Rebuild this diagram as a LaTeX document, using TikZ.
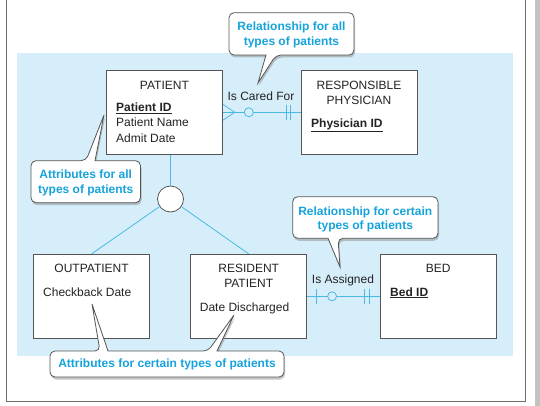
\documentclass[tikz,border=0pt]{standalone}
\usepackage{fontspec}
\setmainfont{Liberation Sans}
\usetikzlibrary{calc,shadows}
\definecolor{bgblue}{RGB}{214,238,250}
\definecolor{cline}{RGB}{75,185,228}
\definecolor{ctext}{RGB}{22,163,219}
\definecolor{ebord}{RGB}{85,85,85}
\definecolor{etext}{RGB}{35,35,35}
\definecolor{framec}{RGB}{110,110,110}
\definecolor{barc}{RGB}{195,195,195}
\begin{document}
\begin{tikzpicture}[x=1pt,y=-1pt,
  entity/.style={draw=ebord, fill=white, line width=0.8pt, minimum width=116pt, minimum height=84pt, inner sep=0pt},
  etxt/.style={text=etext, font=\fontsize{12}{14}\selectfont, inner sep=0pt, anchor=base},
  ctxt/.style={text=ctext, font=\fontsize{12}{14}\selectfont\bfseries, inner sep=0pt, anchor=base},
  conn/.style={draw=cline, line width=0.8pt},
  opt/.style={circle, draw=cline, fill=bgblue, line width=0.8pt, minimum size=9pt, inner sep=0pt},
  subc/.style={circle, draw=ebord, fill=white, line width=0.8pt, minimum size=26pt, inner sep=0pt},
  callout/.style={fill=white, draw=ebord, line width=0.8pt,
    drop shadow={opacity=0.45, shadow xshift=1pt, shadow yshift=-2.5pt}}]
\useasboundingbox (0,0) rectangle (540,406);
\fill[white] (0,0) rectangle (540,406);
\fill[barc] (534.5,0) rectangle (540,406);
\draw[framec, line width=1pt] (6,-5) rectangle (525,401);
\fill[bgblue] (17.2,53.3) rectangle (513,355.7);

% entities
\node[entity] (patient) at (164.4,112.3) {};
\node[entity] (physician) at (359,112.3) {};
\node[entity] (outp) at (91.6,296.3) {};
\node[entity] (resident) at (248.7,296.3) {};
\node[entity] (bed) at (438.3,296.3) {};

% subtype circle and connectors
\node[subc] (circ) at (170.5,199) {};
\draw[conn] (circ) -- (circ |- patient.south);
\draw[conn] (circ) -- (outp.north);
\draw[conn] (circ) -- (resident.north);

% Is Cared For
\draw[conn] (patient.east) -- (physician.west);
\coordinate (cft) at ($(patient.east)+(12,0)$);
\draw[conn] ($(patient.east)+(0,-8)$) -- (cft) -- ($(patient.east)+(0,8)$);
\node[opt] (o1) at ($(patient.east)+(26,0)$) {};
\draw[conn] ($(physician.west)+(-14.7,-7.5)$) -- ++(0,15);
\draw[conn] ($(physician.west)+(-10,-7.5)$) -- ++(0,15);
\node[etxt] (lcared) at (261,100.3) {Is Cared For};

% Is Assigned
\draw[conn] (resident.east) -- (bed.west);
\draw[conn] ($(resident.east)+(9.3,-7.5)$) -- ++(0,15);
\node[opt] (o2) at ($(resident.east)+(25,0)$) {};
\draw[conn] ($(bed.west)+(-16,-7.5)$) -- ++(0,15);
\draw[conn] ($(bed.west)+(-11,-7.5)$) -- ++(0,15);
\node[etxt] (lassigned) at (343,283.6) {Is Assigned};

% entity texts
\node[etxt] (tpat) at (164.4,89.3) {PATIENT};
\node[etxt, anchor=base west] (tpid) at (116,111.6) {\underline{\textbf{Patient ID}}};
\node[etxt, anchor=base west] (tpname) at (116,127) {Patient Name};
\node[etxt, anchor=base west] (tadmit) at (116,142.6) {Admit Date};
\node[etxt] (tresp) at (359,89.3) {RESPONSIBLE};
\node[etxt] (tphys) at (359,104.3) {PHYSICIAN};
\node[etxt, anchor=base west] (tphid) at (311,127.6) {\underline{\textbf{Physician ID}}};
\node[etxt] (toutp) at (91.6,272.6) {OUTPATIENT};
\node[etxt, anchor=base west] (tcheck) at (43,296) {Checkback Date};
\node[etxt] (tres1) at (248.7,272.6) {RESIDENT};
\node[etxt] (tres2) at (248.7,287.6) {PATIENT};
\node[etxt, anchor=base west] (tdd) at (199.7,311) {Date Discharged};
\node[etxt] (tbed) at (438.3,272.6) {BED};
\node[etxt, anchor=base west] (tbedid) at (390,296) {\underline{\textbf{Bed ID}}};

% callouts
\path[callout] (291,12.7) [rounded corners=5pt] -- (354,12.7) -- (354,55) -- (276,55)
  [sharp corners] -- (258,83) -- (266,55) [rounded corners=5pt] -- (229,55) -- (229,12.7) -- cycle;
\node[ctxt] (c1a) at (291.5,31) {Relationship for all};
\node[ctxt] (c1b) at (291.5,46) {types of patients};

\path[callout] (85,202.7) [rounded corners=5pt] -- (31,202.7) -- (31,160.7) -- (86,160.7)
  [sharp corners] -- (104,115) -- (95,160.7) [rounded corners=5pt] -- (140.5,160.7) -- (140.5,202.7) -- cycle;
\node[ctxt] (c2a) at (85.7,178.6) {Attributes for all};
\node[ctxt] (c2b) at (85.7,193.6) {types of patients};

\path[callout] (365,196.7) [rounded corners=5pt] -- (438,196.7) -- (438,238.3) -- (338,238.3)
  [sharp corners] -- (340,267) -- (328,238.3) [rounded corners=5pt] -- (292.7,238.3) -- (292.7,196.7) -- cycle;
\node[ctxt] (c3a) at (365.3,215.3) {Relationship for certain};
\node[ctxt] (c3b) at (365.3,229.3) {types of patients};

\path[callout] (167,377) [rounded corners=5pt] -- (50,377) -- (50,351) -- (100,351)
  [sharp corners] -- (92,304) -- (108,351) [rounded corners=5pt] -- (208,351)
  [sharp corners] -- (234,315) -- (217,351) [rounded corners=5pt] -- (284,351) -- (284,377) -- cycle;
\node[ctxt] (c4a) at (167,367.3) {Attributes for certain types of patients};
\end{tikzpicture}
\end{document}
